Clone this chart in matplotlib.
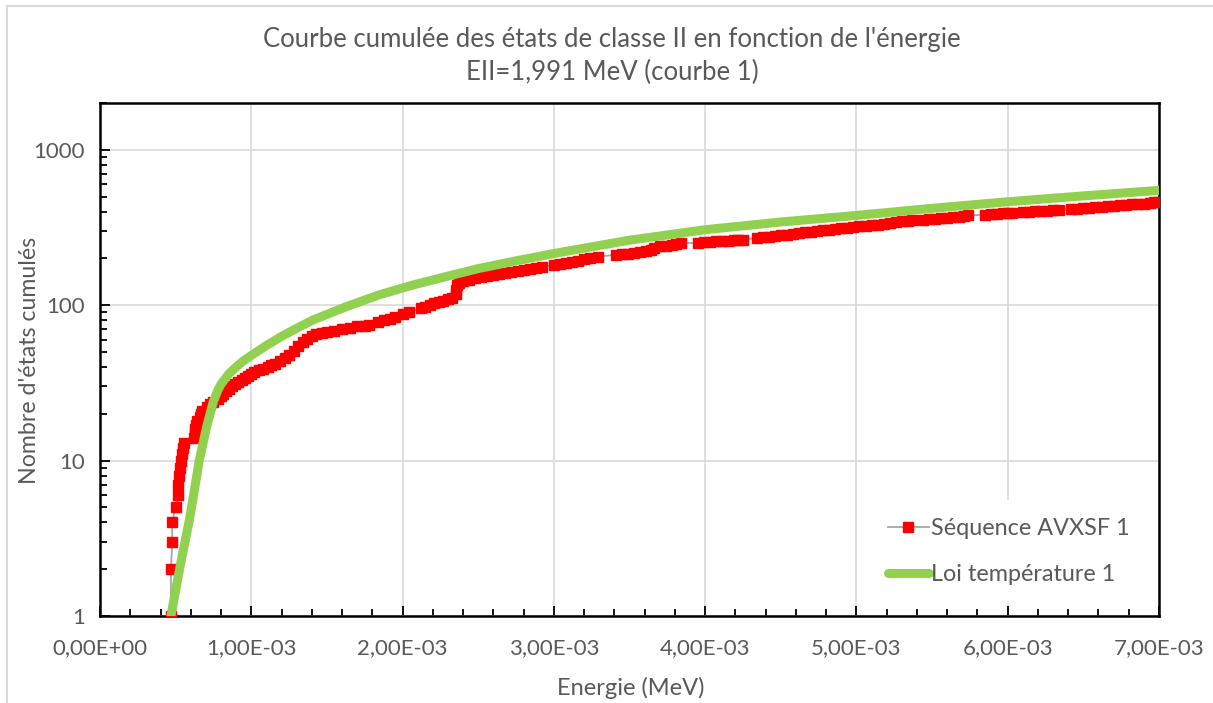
import matplotlib
matplotlib.use("Agg")
import matplotlib.pyplot as plt
from matplotlib.patches import Rectangle
from matplotlib.ticker import FixedLocator, LogLocator, NullFormatter

# ---------------------------------
# Data (energy in units of 1e-3 MeV)
# ---------------------------------

seq_energy = [
    0.469, 0.469, 0.478, 0.476, 0.500, 0.518, 0.518, 0.522, 0.529, 0.533,
    0.540, 0.551, 0.557, 0.620, 0.625, 0.630, 0.635, 0.640, 0.660, 0.668,
    0.676, 0.710, 0.730, 0.750, 0.780, 0.800, 0.810, 0.830, 0.850, 0.870,
    0.890, 0.910, 0.940, 0.960, 0.980, 1.000, 1.020, 1.050, 1.080, 1.110,
    1.130, 1.160, 1.190, 1.220,
    1.25, 1.28, 1.31, 1.34, 1.37, 1.40, 1.43, 1.47, 1.50, 1.55,
    1.60, 1.65, 1.70, 1.75, 1.78,
    1.84, 1.88, 1.92, 1.95,
    2.00, 2.04,
    2.12, 2.15, 2.18, 2.21, 2.24, 2.27, 2.30, 2.33, 2.35, 2.35,
    2.36, 2.37, 2.40, 2.44, 2.48, 2.52, 2.56, 2.60, 2.64, 2.68,
    2.72, 2.76, 2.80, 2.84, 2.88, 2.92,
    3.00, 3.04, 3.08, 3.12, 3.16, 3.20, 3.24, 3.29,
    3.41, 3.45, 3.49, 3.53, 3.57, 3.61, 3.64, 3.66, 3.70, 3.74,
    3.78, 3.81, 3.84,
    3.95, 3.99, 4.03, 4.07, 4.11, 4.15, 4.19, 4.22, 4.25,
    4.34, 4.38, 4.42, 4.46, 4.50, 4.54, 4.58, 4.62, 4.66, 4.70,
    4.74, 4.78, 4.82, 4.86, 4.90, 4.94, 4.98, 5.02, 5.06, 5.10,
    5.14, 5.18, 5.22, 5.26, 5.30, 5.34, 5.37,
    5.44, 5.48, 5.52, 5.56, 5.60, 5.64, 5.68, 5.71, 5.74,
    5.85, 5.89, 5.93, 5.97, 6.00, 6.03,
    6.10, 6.14, 6.18, 6.22, 6.26, 6.30, 6.34,
    6.42, 6.46, 6.50, 6.54, 6.58, 6.62, 6.66, 6.70, 6.74, 6.78,
    6.82, 6.86, 6.90, 6.94, 6.97, 7.00,
]

seq_count = [
    1, 2, 3, 4, 5, 6, 7, 8, 9, 10,
    11, 12, 13, 14, 15, 16, 17, 18, 19, 20,
    21, 22, 23, 24, 25, 26, 27, 28, 29, 30,
    31, 32, 33, 34, 35, 36, 37, 38, 39, 40,
    41, 42, 44, 46,
    48, 51, 55, 58, 61, 63, 65, 66, 67, 68,
    70, 71, 73, 74, 75,
    78, 80, 82, 84,
    88, 90,
    96, 98, 101, 103, 105, 107, 109, 111, 118, 126,
    134, 139, 143, 146, 149, 152, 155, 157, 159, 161,
    163, 166, 169, 171, 174, 176,
    181, 184, 187, 190, 193, 197, 201, 205,
    211, 213, 215, 218, 220, 223, 227, 234, 239, 242,
    245, 248, 250,
    252, 254, 256, 258, 259, 260, 261, 262, 264,
    270, 273, 276, 279, 282, 285, 288, 291, 294, 297,
    300, 303, 306, 309, 312, 315, 318, 321, 324, 327,
    330, 334, 338, 342, 346, 349, 351,
    354, 357, 360, 363, 366, 369, 372, 375, 378,
    382, 385, 388, 390, 392, 394,
    398, 400, 402, 404, 406, 408, 410,
    415, 418, 421, 424, 427, 430, 433, 436, 439, 442,
    445, 448, 451, 454, 458, 462,
]

law_energy = [0.469, 0.529, 0.595, 0.656, 0.705, 0.749, 0.78, 0.80, 0.85,
              0.90, 0.95, 1.0, 1.1, 1.2, 1.3, 1.41, 1.63, 1.85, 2.07,
              2.29, 2.5, 2.75, 3.0, 3.5, 4.0, 4.5, 5.0, 5.5, 6.0, 6.5, 7.0]
law_count = [1.0, 2.08, 4.36, 10.0, 16.5, 24.0, 28.5, 31.0, 36.0,
             40.0, 44.0, 47.5, 55.0, 63.0, 71.0, 80.5, 98.0, 117.0, 135.0,
             153.0, 172.0, 193.0, 215.0, 262.0, 306.0, 343.0, 378.0, 420.0,
             463.0, 505.0, 548.0]

x_ticks = [0, 1e-3, 2e-3, 3e-3, 4e-3, 5e-3, 6e-3, 7e-3]
x_tick_labels = ["0,00E+00", "1,00E-03", "2,00E-03", "3,00E-03",
                 "4,00E-03", "5,00E-03", "6,00E-03", "7,00E-03"]
y_ticks = [1, 10, 100, 1000]
y_tick_labels = ["1", "10", "100", "1000"]

# ---------------------------------
# Figure
# ---------------------------------

plt.rcParams["font.family"] = ["Lato", "DejaVu Sans"]
text_col = "#595959"
W, H = 1213, 703

fig = plt.figure(figsize=(W / 100, H / 100), dpi=100)
ax = fig.add_axes([100 / W, 1 - 616 / H, 1059 / W, 513 / H])

fig.patches.append(Rectangle((7 / W, -0.5), 2.0, 0.5 + 697 / H,
                             transform=fig.transFigure, fill=False,
                             edgecolor="#d9d9d9", linewidth=1.5))

ax.plot([e * 1e-3 for e in seq_energy], seq_count,
        color="#a6a6a6", linewidth=1.3,
        marker="s", markersize=6.5, markerfacecolor="#ff0000",
        markeredgecolor="#ff0000", label="Séquence AVXSF 1", zorder=3)

ax.plot([e * 1e-3 for e in law_energy], law_count,
        color="#92d050", linewidth=6.5, solid_capstyle="round",
        label="Loi température 1", zorder=4)

# ---------------------------------
# Axes
# ---------------------------------

ax.set_yscale("log")
ax.set_xlim(0, 7e-3)
ax.set_ylim(1, 2000)

ax.xaxis.set_major_locator(FixedLocator(x_ticks))
ax.set_xticklabels(x_tick_labels)
ax.xaxis.set_minor_locator(FixedLocator([i * 2e-4 for i in range(36)]))
ax.yaxis.set_major_locator(FixedLocator(y_ticks))
ax.set_yticklabels(y_tick_labels)
ax.yaxis.set_minor_locator(LogLocator(base=10, subs=range(2, 10)))
ax.yaxis.set_minor_formatter(NullFormatter())

ax.tick_params(axis="both", which="both", direction="in",
               colors="black", labelcolor=text_col, labelsize=16, width=1.3)
ax.tick_params(axis="both", which="major", length=7)
ax.tick_params(axis="both", which="minor", length=5)
ax.tick_params(axis="x", which="major", pad=16)
ax.tick_params(axis="y", which="major", pad=11)

for sp in ax.spines.values():
    sp.set_color("black")
    sp.set_linewidth(1.8)

ax.grid(True, which="major", color="#d9d9d9", linewidth=1.2)
ax.set_axisbelow(True)

fig.text(631 / W, 1 - 688 / H, "Energie (MeV)", ha="center", va="center",
         color=text_col, fontsize=17)
fig.text(30 / W, 1 - 360 / H, "Nombre d'états cumulés", ha="center",
         va="center", rotation=90, color=text_col, fontsize=16.7)

fig.text(612 / W, 1 - 40 / H,
         "Courbe cumulée des états de classe II en fonction de l'énergie",
         ha="center", va="center", color=text_col, fontsize=18.5)
fig.text(612 / W, 1 - 72 / H, "EII=1,991 MeV (courbe 1)",
         ha="center", va="center", color=text_col, fontsize=18.5)

# ---------------------------------
# Legend
# ---------------------------------

leg = ax.legend(loc="center left", bbox_to_anchor=(869 / W, 1 - 551.5 / H),
                bbox_transform=fig.transFigure, fontsize=16.8, frameon=True,
                labelspacing=1.05, handlelength=1.75, handletextpad=0.1,
                borderpad=0.8, borderaxespad=0)
leg.get_frame().set_facecolor("white")
leg.get_frame().set_edgecolor("white")
leg.get_frame().set_alpha(1)
for t in leg.get_texts():
    t.set_color(text_col)

fig.savefig("out.png", dpi=100)
